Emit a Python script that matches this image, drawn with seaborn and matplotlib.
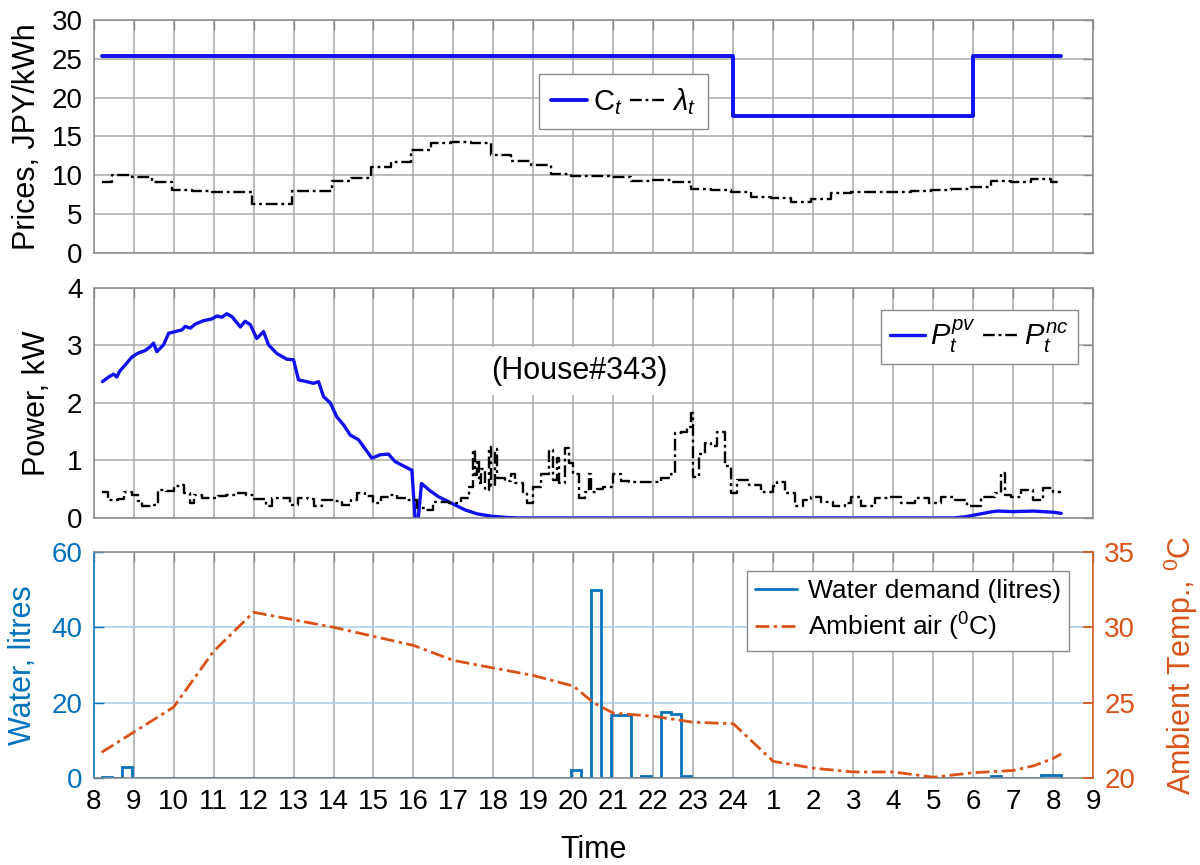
import numpy as np
import matplotlib
matplotlib.use("Agg")
import matplotlib.pyplot as plt
from matplotlib.lines import Line2D
import seaborn as sns

# ---------------- data ----------------
# hour axis: 8 .. 33  (33 = 9 o'clock on the following day)
hour_ticks = list(range(8, 34))
hour_labels = ["8", "9", "10", "11", "12", "13", "14", "15", "16", "17", "18",
               "19", "20", "21", "22", "23", "24", "1", "2", "3", "4", "5",
               "6", "7", "8", "9"]

# retail tariff C_t (step changes)
tariff_t = [8.2, 24.0, 30.0, 32.2]
tariff_v = [25.3, 17.6, 25.3, 25.3]

# wholesale price lambda_t (half-hourly steps)
lam_t = [8.2, 8.45, 8.95, 9.45, 9.95, 10.45, 10.95, 11.45, 11.95, 12.45, 12.95,
         13.45, 13.95, 14.45, 14.95, 15.45, 15.95, 16.45, 16.95, 17.45, 17.95,
         18.45, 18.95, 19.45, 19.95, 20.45, 20.95, 21.45, 21.95, 22.45, 22.95,
         23.45, 23.95, 24.45, 24.95, 25.45, 25.95, 26.45, 26.95, 27.45, 27.95,
         28.45, 28.95, 29.45, 29.95, 30.45, 30.95, 31.45, 31.95, 32.2]
lam_v = [9.1, 10.0, 9.8, 9.1, 8.1, 8.0, 7.9, 7.8, 6.3, 6.3, 8.0,
         8.0, 9.3, 9.6, 11.1, 11.7, 13.2, 14.1, 14.3, 14.2, 12.6,
         11.8, 11.3, 10.2, 9.9, 9.9, 9.8, 9.3, 9.4, 9.1, 8.2,
         8.1, 7.9, 7.2, 7.1, 6.6, 6.9, 7.7, 7.8, 7.8, 7.9,
         8.0, 8.1, 8.2, 8.5, 9.3, 9.1, 9.5, 9.1, 9.1]

# PV generation P_t^pv (kW)
pv_t = [8.22, 8.375, 8.5, 8.58, 8.65, 8.79, 8.96, 9.125, 9.29, 9.42, 9.5, 9.58,
        9.75, 9.875, 10.04, 10.21, 10.29, 10.42, 10.54, 10.75, 10.96, 11.08,
        11.21, 11.33, 11.46, 11.67, 11.79, 11.92, 12.08, 12.25, 12.375, 12.58,
        12.83, 13.0, 13.125, 13.33, 13.5, 13.625, 13.75, 13.92, 14.08, 14.25,
        14.42, 14.625, 14.75, 14.96, 15.17, 15.375, 15.54, 15.79, 15.96, 16.04,
        16.12, 16.2, 16.4, 16.625, 17.0, 17.29, 17.6, 17.96, 18.3, 18.625,
        29.5, 29.8, 30.1, 30.4, 30.6, 31.0, 31.5, 32.0, 32.2]
pv_v = [2.37, 2.45, 2.50, 2.45, 2.55, 2.66, 2.80, 2.87, 2.91, 2.98, 3.04, 2.89,
        3.01, 3.21, 3.24, 3.27, 3.33, 3.30, 3.37, 3.43, 3.46, 3.51,
        3.49, 3.55, 3.50, 3.32, 3.42, 3.36, 3.12, 3.24, 3.01, 2.86,
        2.76, 2.75, 2.40, 2.37, 2.34, 2.37, 2.11, 2.00, 1.76, 1.62,
        1.44, 1.36, 1.24, 1.04, 1.10, 1.11, 0.98, 0.89, 0.83, 0.00,
        0.00, 0.60, 0.48, 0.37, 0.24, 0.14, 0.07, 0.03, 0.01, 0.00,
        0.00, 0.02, 0.06, 0.10, 0.12, 0.11, 0.12, 0.10, 0.08]

# non-controllable load P_t^nc (kW)
nc_t = [8.2, 8.35, 8.6, 8.75, 8.95, 9.1, 9.2, 9.45, 9.6, 9.8, 10.0, 10.15,
        10.25, 10.4, 10.5, 10.7, 10.95, 11.1, 11.3, 11.6, 11.8, 12.0, 12.3,
        12.45, 12.7, 12.9, 13.1, 13.35, 13.5, 13.7, 14.0, 14.2, 14.45, 14.6,
        14.8, 15.0, 15.2, 15.4, 15.6, 15.85, 16.1, 16.3, 16.5, 16.9, 17.2,
        17.4, 17.5, 17.55, 17.6, 17.65, 17.7, 17.8, 17.9, 17.95, 18.05, 18.1,
        18.3, 18.45, 18.55, 18.75, 18.85, 19.0, 19.2, 19.4, 19.5, 19.6, 19.65,
        19.8, 19.9, 20.0, 20.15, 20.3, 20.4, 20.45, 20.6, 20.75, 21.0, 21.2,
        21.4, 21.7, 21.95, 22.2, 22.45, 22.55, 22.7, 22.85, 22.95, 23.0, 23.15,
        23.3, 23.45, 23.6, 23.8, 23.95, 24.1, 24.4, 24.7, 25.0, 25.1, 25.3,
        25.55, 25.75, 25.95, 26.2, 26.5, 26.8, 26.95, 27.2, 27.55, 27.9, 28.2,
        28.55, 28.9, 29.2, 29.55, 29.85, 30.2, 30.55, 30.7, 30.8, 30.95, 31.2,
        31.5, 31.75, 32.0, 32.2]
nc_v = [0.46, 0.31, 0.33, 0.46, 0.40, 0.30, 0.20, 0.22, 0.49, 0.47, 0.56, 0.58,
        0.43, 0.26, 0.40, 0.35, 0.34, 0.38, 0.40, 0.43, 0.40, 0.33, 0.20,
        0.34, 0.34, 0.22, 0.34, 0.33, 0.20, 0.31, 0.30, 0.22, 0.31, 0.43,
        0.38, 0.26, 0.36, 0.40, 0.34, 0.31, 0.17, 0.14, 0.28, 0.26, 0.34,
        0.54, 1.18, 0.75, 1.00, 0.60, 0.85, 0.49, 1.24, 0.55, 1.20, 0.69,
        0.65, 0.77, 0.60, 0.45, 0.26, 0.54, 0.77, 1.18, 0.66, 1.05, 0.60,
        1.21, 0.95, 0.77, 0.34, 0.45, 0.77, 0.46, 0.50, 0.54, 0.77, 0.65,
        0.63, 0.62, 0.63, 0.70, 0.77, 1.47, 1.50, 1.59, 1.82, 0.72, 1.12,
        1.30, 1.25, 1.50, 0.90, 0.43, 0.66, 0.58, 0.46, 0.55, 0.63, 0.43,
        0.20, 0.31, 0.36, 0.28, 0.20, 0.26, 0.36, 0.20, 0.34, 0.36, 0.26,
        0.34, 0.26, 0.36, 0.31, 0.20, 0.36, 0.43, 0.78, 0.40, 0.36, 0.49,
        0.31, 0.52, 0.46, 0.46]

# hot-water demand in 15-minute slots (slot start hour, litres)
water_start = [8.2, 8.7, 19.95, 20.45, 20.95, 21.2, 21.7, 22.2, 22.45, 22.7,
               30.45, 31.7, 31.95]
water_litres = [0.3, 3.0, 2.1, 50.0, 16.7, 16.7, 0.5, 17.4, 16.9, 0.5,
                0.5, 0.7, 0.7]

# ambient air temperature (deg C)
temp_t = [8.2, 10, 11, 12, 13, 14, 15, 16, 17, 18, 19, 20, 20.5, 21, 22, 23,
          24, 25, 26, 27, 28, 29, 30, 31, 31.5, 32, 32.2]
temp_v = [21.7, 24.7, 28.4, 31.0, 30.5, 30.0, 29.4, 28.8, 27.8, 27.3, 26.8,
          26.1, 25.0, 24.3, 24.1, 23.7, 23.6, 21.1, 20.65, 20.4, 20.4, 20.05,
          20.35, 20.5, 20.8, 21.3, 21.6]

# ---------------- style ----------------
sns.set_theme(style="white")
plt.rcParams["font.family"] = ["Liberation Sans", "DejaVu Sans"]
plt.rcParams["mathtext.fontset"] = "custom"
plt.rcParams["mathtext.rm"] = "Liberation Sans"
plt.rcParams["mathtext.it"] = "Liberation Sans:italic"
plt.rcParams["mathtext.bf"] = "Liberation Sans:bold"
for key in ("text.color", "axes.labelcolor", "xtick.labelcolor",
            "ytick.labelcolor"):
    plt.rcParams[key] = "black"

BLUE = "#1010F0"
MBLUE = "#0072BD"
ORANGE = "#D95319"
GRID = "#a8a8a8"
EDGE = "#8a8a8a"
DASHDOT = (0, (5, 1.6, 1.2, 1.6))
ORANGE_DASH = (0, (5, 1.6, 1.2, 1.6))

fig = plt.figure(figsize=(12, 8.65), dpi=100)
L, W = 0.078, 0.833
ax1 = fig.add_axes([L, 0.7075, W, 0.2694])
ax2 = fig.add_axes([L, 0.4012, W, 0.2660])
ax3 = fig.add_axes([L, 0.1006, W, 0.2613])
ax3r = ax3.twinx()


def base_style(ax, grid_y=True):
    ax.set_xlim(8, 33)
    ax.set_xticks(hour_ticks)
    ax.set_axisbelow(True)
    ax.grid(True, axis="x", color=GRID, lw=1.1)
    if grid_y:
        ax.grid(True, axis="y", color=GRID, lw=1.1)
    for s in ax.spines.values():
        s.set_color(EDGE)
        s.set_linewidth(1.1)
    ax.tick_params(direction="in", length=7, width=1.0, color=EDGE,
                   top=True, right=True, labelsize=20, pad=8)
    ax.set_xlabel("")


# ---- prices ----
sns.lineplot(x=tariff_t, y=tariff_v, ax=ax1, color=BLUE, lw=2.8,
             drawstyle="steps-post", estimator=None, sort=False)
sns.lineplot(x=lam_t, y=lam_v, ax=ax1, color="black", lw=1.7,
             linestyle=DASHDOT, drawstyle="steps-post", estimator=None, sort=False)
base_style(ax1)
ax1.set_ylim(0, 30)
ax1.set_yticks(range(0, 31, 5))
ax1.tick_params(labelbottom=False)
ax1.set_ylabel("Prices, JPY/kWh", fontsize=22)
ax1.yaxis.set_label_coords(-0.052, 0.5)
ax1.legend([Line2D([], [], color=BLUE, lw=2.8),
            Line2D([], [], color="black", lw=1.7, linestyle=DASHDOT)],
           [r"$\mathrm{C}_t$", r"$\lambda_t$"], ncol=2, fontsize=21,
           loc="center", bbox_to_anchor=(0.53, 0.65), handlelength=1.25,
           handletextpad=0.2, columnspacing=0.25, fancybox=False,
           edgecolor=EDGE, framealpha=1, borderpad=0.4)

# ---- power ----
sns.lineplot(x=pv_t, y=pv_v, ax=ax2, color=BLUE, lw=2.4,
             estimator=None, sort=False)
sns.lineplot(x=nc_t, y=nc_v, ax=ax2, color="black", lw=1.7,
             linestyle=DASHDOT, drawstyle="steps-post", estimator=None, sort=False)
base_style(ax2)
ax2.set_ylim(0, 4)
ax2.set_yticks(range(0, 5))
ax2.tick_params(labelbottom=False)
ax2.set_ylabel("Power, kW", fontsize=22)
ax2.yaxis.set_label_coords(-0.042, 0.5)
ax2.text(0.486, 0.64, "(House#343)", transform=ax2.transAxes, fontsize=22,
         ha="center", va="center",
         bbox=dict(boxstyle="square,pad=0.3", fc="white", ec="none"))
ax2.legend([Line2D([], [], color=BLUE, lw=2.4),
            Line2D([], [], color="black", lw=1.7, linestyle=DASHDOT)],
           [r"$P_t^{pv}$", r"$P_t^{nc}$"], ncol=2, fontsize=21,
           loc="center", bbox_to_anchor=(0.886, 0.787), handlelength=1.2,
           handletextpad=0.2, columnspacing=0.25, fancybox=False,
           edgecolor=EDGE, framealpha=1, borderpad=0.3)

# ---- water & temperature ----
slot_edges = np.round(np.arange(8.2, 32.2001, 0.25), 2)
slot_litres = np.zeros(len(slot_edges) - 1)
for s, v in zip(water_start, water_litres):
    slot_litres[int(round((s - 8.2) / 0.25))] = v
ax3.stairs(slot_litres, slot_edges, color=MBLUE, lw=2.0, baseline=0)
base_style(ax3, grid_y=False)
ax3.grid(True, axis="y", color="#a9cbe6", lw=1.1)
ax3.set_ylim(0, 60)
ax3.set_yticks([0, 20, 40, 60])
ax3.set_xticklabels(hour_labels)
ax3.tick_params(axis="x", labelsize=20, colors=EDGE, labelcolor="black", pad=8)
ax3.tick_params(axis="y", colors=MBLUE, labelcolor=MBLUE, right=False)
ax3.set_ylabel("Water, litres", fontsize=22, color=MBLUE)
ax3.yaxis.set_label_coords(-0.056, 0.5)
ax3.set_xlabel("Time", fontsize=22, labelpad=14)
ax3.spines["left"].set_color(MBLUE)
ax3.spines["right"].set_visible(False)

sns.lineplot(x=temp_t, y=temp_v, ax=ax3r, color=ORANGE, lw=2.0,
             linestyle=ORANGE_DASH, estimator=None, sort=False)
ax3r.set_ylim(20, 35)
ax3r.set_yticks([20, 25, 30, 35])
ax3r.tick_params(axis="y", direction="in", length=7, colors=ORANGE,
                 labelcolor=ORANGE, labelsize=20, pad=8)
ax3r.set_ylabel("Ambient Temp., $^{0}$C", fontsize=22, color=ORANGE)
ax3r.yaxis.set_label_coords(1.069, 0.5)
for k in ("left", "top", "bottom"):
    ax3r.spines[k].set_visible(False)
ax3r.spines["right"].set_color(ORANGE)
ax3r.spines["right"].set_linewidth(1.1)
ax3r.legend([Line2D([], [], color=MBLUE, lw=2.0),
             Line2D([], [], color=ORANGE, lw=2.0, linestyle=ORANGE_DASH)],
            ["Water demand (litres)", "Ambient air ($^{0}$C)"], fontsize=19,
            loc="center", bbox_to_anchor=(0.8145, 0.739), handlelength=1.6,
            handletextpad=0.4, fancybox=False, edgecolor=EDGE, framealpha=1,
            borderpad=0.3, labelspacing=0.3)

fig.savefig("out.png", dpi=100)
